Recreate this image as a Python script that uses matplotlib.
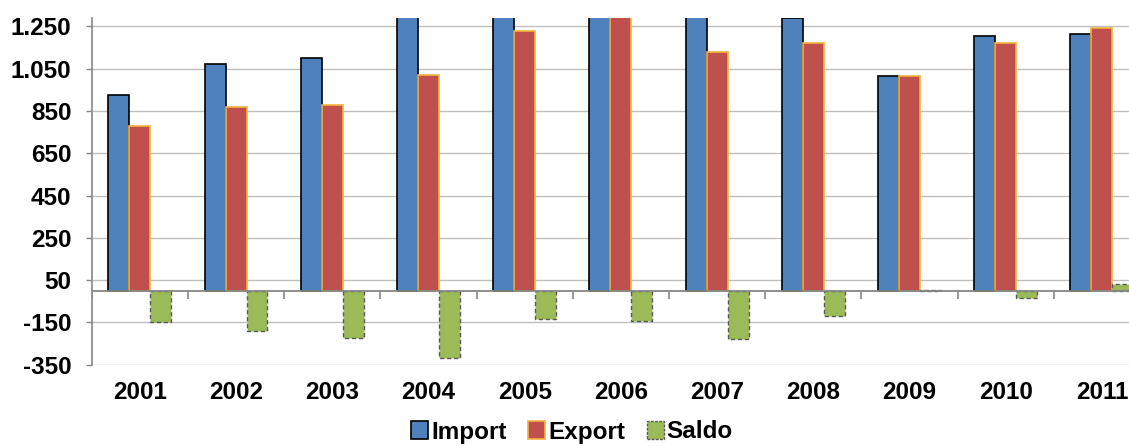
import matplotlib
matplotlib.use("Agg")
import matplotlib.pyplot as plt
import numpy as np
from matplotlib.patches import Patch

years = ["2001", "2002", "2003", "2004", "2005", "2006", "2007", "2008", "2009", "2010", "2011"]
imports = [927, 1073, 1102, 1339, 1365, 1474, 1356, 1288, 1014, 1207, 1212]
exports = [780, 870, 878, 1021, 1229, 1330, 1127, 1170, 1018, 1170, 1242]
saldo = [-147, -191, -222, -318, -136, -144, -229, -120, 5, -35, 31]
yticks = [-350, -150, 50, 250, 450, 650, 850, 1050, 1250]
ytick_labels = ["-350", "-150", "50", "250", "450", "650", "850", "1.050", "1.250"]

plt.rcParams['font.family'] = ['Liberation Sans', 'DejaVu Sans']

W, H = 1129, 446
fig = plt.figure(figsize=(W / 100, H / 100), dpi=100)
ax = fig.add_axes([91.7 / W, (H - 364.7) / H, (1150 - 91.7) / W, (364.7 - 18) / H])

n = len(years)
x = np.arange(n)
bw = 0.218
blue, red, green = "#4F81BD", "#C0504D", "#9BBB59"

ax.bar(x - bw, imports, bw, color=blue, edgecolor="black", linewidth=1.2, zorder=3)
ax.bar(x, exports, bw, color=red, edgecolor="#F2B33D", linewidth=1.2, zorder=3)
ax.bar(x + bw, saldo, bw, color=green, edgecolor="#595959", linewidth=1.0,
       linestyle=(0, (3, 2)), zorder=3)

ax.set_xlim(-0.5, n - 0.5)
ax.set_ylim(-350, 1290)
ax.set_yticks(yticks)
ax.set_yticklabels(ytick_labels)
ax.yaxis.grid(True, color="#BFBFBF", linewidth=1.0, zorder=0)
ax.set_axisbelow(True)

# zero axis line with category tick marks
ax.axhline(0, color="#868686", linewidth=1.3, zorder=4)
bounds = np.arange(n + 1) - 0.5
ax.vlines(bounds, -38, 0, color="#868686", linewidth=1.2, zorder=4)

fs = 17.5
ax.set_xticks(x)
ax.set_xticklabels(years)
ax.tick_params(axis="x", length=0, pad=12)
ax.tick_params(axis="y", length=4.5, width=1, color="#868686", pad=10)
for lab in ax.get_xticklabels() + ax.get_yticklabels():
    lab.set_fontsize(fs)
    lab.set_fontweight("bold")

for s in ["top", "right", "bottom"]:
    ax.spines[s].set_visible(False)
ax.spines["left"].set_color("#868686")
ax.spines["left"].set_linewidth(1.2)

handles = [
    Patch(facecolor=blue, edgecolor="black", linewidth=1.2, label="Import"),
    Patch(facecolor=red, edgecolor="#F2B33D", linewidth=1.2, label="Export"),
    Patch(facecolor=green, edgecolor="#595959", linewidth=1.0, linestyle=(0, (2, 1)), label="Saldo"),
]
leg = fig.legend(handles=handles, loc="center", bbox_to_anchor=(572 / W, (H - 432) / H),
                 ncol=3, frameon=False, handlelength=0.7, handleheight=0.7,
                 handletextpad=0.12, columnspacing=0.9, borderpad=0.1,
                 prop={"size": fs, "weight": "bold"})

fig.savefig("out.png", dpi=100)
